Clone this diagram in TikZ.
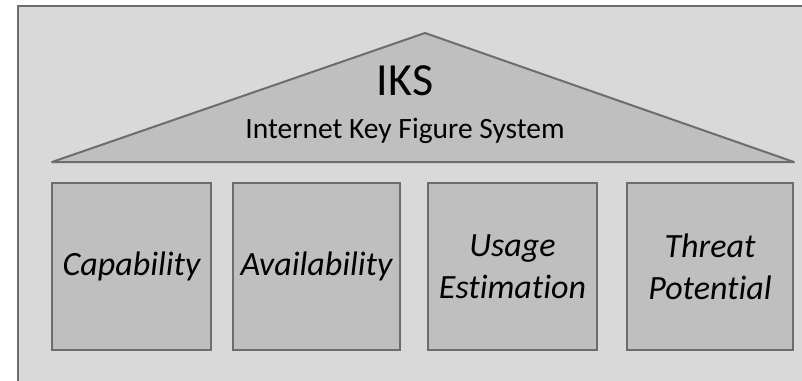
\documentclass[tikz,border=0pt]{standalone}
\usepackage{fontspec}
\setmainfont{Carlito}[Ligatures={NoCommon}]
\usepackage{tikz}
\usetikzlibrary{positioning}
\definecolor{wall}{HTML}{D9D9D9}
\definecolor{stone}{HTML}{BFBFBF}
\definecolor{edgegray}{HTML}{6D6D6D}
\tikzset{
  housebg/.style={draw=edgegray, fill=wall, line width=2pt},
  roof/.style={draw=edgegray, fill=stone, line width=2pt, line join=round},
  pillar/.style={
    rectangle, draw=edgegray, fill=stone, line width=2pt,
    minimum width=#1, minimum height=167pt,
    inner sep=0pt, outer sep=0pt,
    font=\fontsize{34}{42}\selectfont\itshape, align=center
  },
  pillar/.default=166pt,
  rooftitle/.style={font=\fontsize{46}{50}\selectfont, inner sep=0pt},
  roofname/.style={font=\fontsize{29.5}{34}\selectfont, inner sep=0pt},
}

\begin{document}
\begin{tikzpicture}[x=1pt, y=-1pt]
  \useasboundingbox (0,0) rectangle (802,380);
  \draw[housebg] (18,6) rectangle (830,410);
  % roof
  \coordinate (eavewest) at (52,162);
  \coordinate (ridge) at (425,33);
  \coordinate (eaveeast) at (794,162);
  \draw[roof] (eavewest) -- (ridge) -- (eaveeast) -- cycle;
  \node[rooftitle, anchor=base] (iks) at (405,95) {IKS};
  \node[roofname, anchor=base] at ([yshift=-43pt]iks.base) (iksname) {Internet Key Figure System};
  % pillars
  \node[pillar=159pt] (capability) at (131.5,266.5) {Capability};
  \node[pillar=167pt, right=22pt of capability] (availability) {Availability};
  \node[pillar=169pt, right=28pt of availability] (usage) {Usage\\Estimation};
  \node[pillar=166pt, right=30pt of usage] (threat) {Threat\\Potential};
\end{tikzpicture}
\end{document}
